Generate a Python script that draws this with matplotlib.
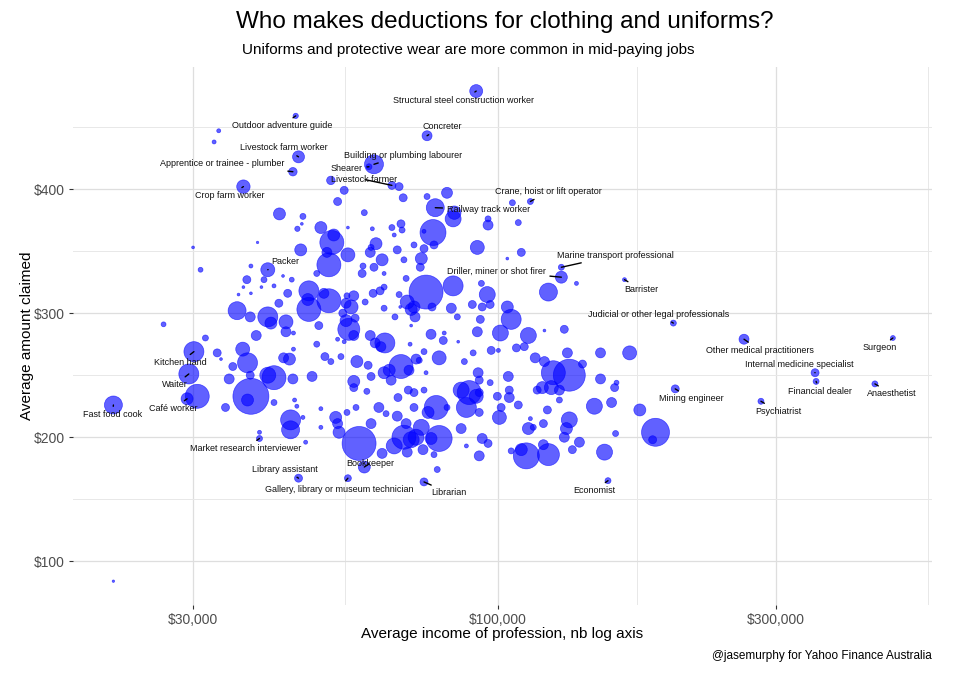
import numpy as np
import matplotlib.pyplot as plt
from matplotlib.ticker import FixedLocator, FuncFormatter, NullFormatter

plt.rcParams['font.family'] = ['Liberation Sans', 'DejaVu Sans']

# unlabelled occupations: average income ($k), average claim ($), claimants (relative)
income_k = [
    33.2, 32.6, 51.7, 54.5, 53.1, 67.7, 68.8, 75.6, 81.8,
    42.2, 46.3, 46.1, 45.3, 49.7, 55.3, 51.9, 52.3, 50.9, 55.3, 38.7, 30.0, 59.0, 60.9, 66.4, 68.2, 68.5, 65.8, 61.8,
    60.6, 71.8, 74.7, 77.7, 67.2, 84.2, 83.8, 77.4, 74.7, 96.2, 96.2, 92.2, 105.9, 108.4, 109.7, 103.8, 45.9, 37.7, 30.9,
    51.3, 60.4, 63.3, 61.3, 58.7, 69.0, 69.6, 73.9, 73.6, 58.5, 63.8, 63.8, 62.8, 61.1, 67.7, 75.3, 83.8, 93.7,
    122.1, 136.4, 37.1, 36.6, 35.9, 37.7, 39.3, 39.7, 42.8, 44.3, 48.9, 41.3, 43.6, 42.1, 47.4, 95.9, 56.6, 55.1,
    51.3, 47.4, 47.2, 50.3, 59.2, 56.0, 56.9, 71.0, 69.9, 71.0, 68.0, 66.6, 63.8, 71.8, 77.1, 72.1, 83.2,
    85.2, 90.4, 94.0, 97.0, 103.8, 105.4, 93.3, 92.2, 101.0, 112.8, 120.2, 130.0, 55.5, 54.9, 54.2, 56.6, 54.5,
    53.1, 35.7, 37.6, 40.3, 40.8, 43.3, 43.3, 44.6, 38.5, 31.5, 26.7, 49.3, 54.9, 76.8, 80.9, 80.6, 85.5,
    33.0, 33.5, 35.1, 36.5, 37.2, 37.6, 34.6, 40.3, 41.3, 43.9, 42.9, 44.6, 48.0, 44.5, 48.9, 50.5, 51.7, 53.8, 57.3, 59.9,
    56.6, 56.6, 59.6, 60.6, 61.6, 60.4, 64.0, 63.0, 70.7, 72.4, 68.2, 65.1, 70.4, 63.8, 65.6, 79.3, 74.7, 73.3, 75.3, 87.6,
    90.7, 97.4, 100.2, 92.5, 92.9, 97.0, 104.2, 107.6, 111.0, 115.9, 120.2, 124.5, 132.6, 131.6, 139.7, 150.0, 168.3, 150.0, 159.8, 158.6,
    70.2, 67.4, 71.8, 71.8, 62.5, 64.3, 60.6, 67.2, 69.6, 37.7, 37.2, 34.1, 41.3, 44.8, 45.2, 49.7, 52.7,
    55.1, 57.1, 30.5, 116.8, 119.2, 123.5, 127.5, 127.5, 104.6, 104.6, 108.4, 101.3, 100.6, 99.8, 92.9, 92.9, 89.3,
    86.5, 91.8, 88.3, 81.8, 78.4, 75.9, 74.7, 121.6, 119.7, 115.0, 113.7, 112.8, 132.6, 131.1, 146.4, 156.7, 175.2,
    44.1, 44.1, 39.0, 46.8, 46.3, 53.1, 53.4, 49.7, 57.8, 63.3, 66.4, 69.0, 71.0, 69.9, 73.9, 72.4, 76.8, 79.3, 74.4, 77.7,
    78.7, 86.5, 88.3, 92.9, 94.0, 96.2, 105.4, 109.7, 111.9, 122.1, 119.7, 130.0, 134.2, 138.0, 152.4, 159.2, 186.4, 184.3, 21.9,
]
claim = [
    447, 438, 407, 399, 390, 402, 393, 394, 397,
    380, 378, 372, 368, 369, 369, 357, 363, 349, 347, 357, 353, 381, 368, 363, 372, 367, 369, 356,
    353, 355, 352, 355, 351, 381, 376, 365, 366, 376, 371, 353, 389, 373, 349, 344, 351, 338, 335,
    339, 349, 343, 337, 338, 343, 328, 344, 337, 332, 332, 321, 318, 316, 315, 317, 322, 324,
    317, 324, 327, 321, 315, 316, 321, 327, 330, 327, 332, 322, 316, 308, 318, 315, 314, 314,
    310, 303, 311, 316, 309, 305, 296, 303, 309, 290, 305, 297, 304, 305, 305, 297, 304,
    297, 307, 305, 307, 305, 295, 295, 285, 284, 282, 286, 287, 287, 294, 300, 282, 277,
    279, 302, 297, 297, 292, 293, 285, 284, 282, 280, 291, 290, 308, 283, 284, 278, 277,
    268, 263, 257, 271, 260, 250, 247, 250, 248, 263, 264, 271, 249, 247, 275, 265, 261, 265, 261, 258,
    245, 240, 237, 249, 276, 282, 276, 273, 275, 263, 257, 254, 254, 252, 246, 264, 269, 262, 252, 261,
    268, 270, 270, 252, 246, 244, 249, 272, 273, 264, 261, 252, 250, 268, 259, 268, 268, 247, 244, 240,
    238, 232, 236, 224, 224, 219, 211, 217, 211, 233, 230, 224, 228, 230, 225, 223, 216,
    220, 224, 233, 238, 240, 240, 238, 230, 232, 238, 226, 224, 216, 233, 236, 220, 236,
    238, 233, 224, 224, 224, 220, 238, 222, 211, 208, 215, 207, 214, 207, 225, 228, 222,
    214, 206, 204, 196, 216, 211, 204, 208, 195, 187, 193, 200, 198, 188, 208, 200, 199, 199, 190, 186,
    174, 207, 193, 185, 199, 195, 189, 190, 185, 186, 194, 200, 190, 196, 188, 203, 204, 198, 84,
]
claimants = [
    4, 4, 18, 16, 16, 16, 16, 9, 30,
    36, 9, 2, 7, 36, 2, 144, 36, 25, 49, 1.5, 2, 9, 4, 4, 16, 9, 9, 36,
    9, 9, 16, 16, 16, 45, 64, 169, 4, 9, 25, 49, 9, 9, 16, 2, 36, 4, 6,
    144, 25, 36, 16, 9, 9, 9, 36, 16, 16, 4, 9, 16, 16, 9, 289, 100, 9,
    81, 4, 16, 2, 2, 2, 2, 9, 2, 6, 9, 4, 16, 16, 100, 64, 25, 9,
    144, 144, 36, 25, 9, 49, 16, 36, 49, 2, 2, 9, 9, 36, 16, 25, 25,
    9, 16, 16, 16, 36, 100, 16, 25, 64, 64, 2, 16, 121, 36, 16, 25, 4,
    4, 81, 25, 100, 36, 49, 25, 4, 25, 9, 6, 16, 25, 25, 4, 16, 2,
    16, 2, 16, 49, 100, 16, 25, 64, 144, 36, 25, 4, 25, 25, 9, 16, 9, 9, 36, 16,
    36, 16, 9, 16, 25, 25, 100, 25, 4, 25, 144, 36, 25, 36, 25, 49, 9, 9, 4, 9,
    9, 16, 4, 25, 16, 9, 25, 16, 16, 25, 25, 144, 256, 25, 16, 25, 49, 25, 6, 16,
    16, 16, 16, 16, 25, 9, 25, 25, 25, 324, 36, 16, 9, 4, 4, 4, 36,
    9, 9, 144, 16, 36, 49, 25, 9, 25, 16, 16, 16, 49, 16, 16, 16, 144,
    64, 49, 100, 9, 144, 36, 9, 16, 16, 9, 4, 36, 64, 36, 64, 25, 36,
    100, 81, 4, 4, 4, 25, 36, 4, 289, 25, 64, 144, 64, 25, 64, 64, 36, 169, 25, 9,
    9, 25, 4, 25, 25, 16, 9, 36, 169, 121, 25, 25, 16, 25, 64, 9, 196, 16, 1.5,
]

# labelled occupations
label_names = [
    "Structural steel construction worker", "Concreter", "Building or plumbing labourer",
    "Shearer", "Livestock farmer", "Outdoor adventure guide", "Livestock farm worker",
    "Apprentice or trainee - plumber", "Crop farm worker", "Crane, hoist or lift operator",
    "Railway track worker", "Marine transport professional", "Driller, miner or shot firer",
    "Barrister", "Judicial or other legal professionals", "Other medical practitioners",
    "Surgeon", "Internal medicine specialist", "Financial dealer", "Anaesthetist",
    "Mining engineer", "Psychiatrist", "Economist", "Librarian",
    "Gallery, library or museum technician", "Bookkeeper", "Library assistant",
    "Market research interviewer", "Packer", "Kitchen hand", "Waiter", "Café worker",
    "Fast food cook",
]
label_income_k = [91.8, 75.6, 61.3, 60.1, 65.8, 45.0, 45.5, 44.5, 36.6, 113.7, 78.1,
                  128.5, 128.5, 164.9, 200.0, 264.4, 476.1, 350.1, 351.5, 443.4, 201.5,
                  282.7, 154.5, 74.7, 55.3, 59.0, 45.5, 39.0, 40.3, 30.1, 29.5, 29.3, 21.9]
label_claim = [479, 443, 420, 418, 403, 459, 426, 414, 402, 390, 385, 337, 329, 327, 292,
               279, 280, 252, 245, 243, 239, 229, 165, 164, 167, 176, 167, 199, 335, 269,
               251, 231, 226]
label_claimants = [42, 25, 90, 9, 16, 7, 36, 18, 45, 9, 81, 9, 36, 4, 9, 25, 6, 16, 9, 9,
                   16, 9, 9, 16, 12, 36, 16, 9, 49, 100, 100, 36, 81]

# where each label sits relative to its bubble (pixels, right / down)
label_offsets = [(-13, 9), (15, -9), (29, -9), (-22, 2), (-28, -6), (-14, 10), (-15, -9),
                 (-71, -8), (-14, 9), (18, -10), (53, 2), (54, -12), (-65, -6), (17, 10),
                 (-15, -9), (16, 11), (-13, 10), (-16, -8), (4, 10), (17, 10), (16, 10),
                 (17, 10), (-14, 10), (25, 11), (-9, 11), (6, -4), (-14, -9), (-14, 10),
                 (17, -8), (-14, 11), (-14, 11), (-14, 10), (-1, 10)]

size_scale = 2.07

fig = plt.figure(figsize=(9.6, 6.77), dpi=100)
ax = fig.add_axes([73 / 960, 72 / 677, 859 / 960, 538 / 677])

x_all = np.array(income_k + label_income_k) * 1000
y_all = np.array(claim + label_claim)
s_all = np.array(claimants + label_claimants) * size_scale
ax.scatter(x_all, y_all, s=s_all, color='#0000ff', alpha=0.62,
           edgecolors='#0000ff', linewidths=0.5, zorder=3)

for name, xv, yv, (dx, dy) in zip(label_names, label_income_k, label_claim, label_offsets):
    ax.annotate(name, (xv * 1000, yv), xytext=(dx, -dy), textcoords='offset pixels',
                ha='center', va='center', fontsize=6.5, color='#111111', zorder=5,
                arrowprops=dict(arrowstyle='-', color='black', lw=1.0,
                                shrinkA=1, shrinkB=0))

ax.set_xscale('log')
ax.set_xlim(18670, 555600)
ax.set_ylim(64.8, 498.4)

ax.xaxis.set_major_locator(FixedLocator([30000, 100000, 300000]))
ax.xaxis.set_minor_locator(FixedLocator([54772, 173205, 547723]))
ax.xaxis.set_major_formatter(FuncFormatter(lambda v, p: '${:,.0f}'.format(v)))
ax.xaxis.set_minor_formatter(NullFormatter())
ax.yaxis.set_major_locator(FixedLocator([100, 200, 300, 400]))
ax.yaxis.set_minor_locator(FixedLocator([150, 250, 350, 450]))
ax.yaxis.set_major_formatter(FuncFormatter(lambda v, p: '${:.0f}'.format(v)))

ax.grid(which='major', color='#dedede', lw=0.9, zorder=0)
ax.grid(which='minor', color='#e8e8e8', lw=0.7, zorder=0)
ax.set_axisbelow(True)
for sp in ax.spines.values():
    sp.set_visible(False)
ax.tick_params(which='major', length=3, width=0.8, color='#333333',
               labelsize=10, labelcolor='#4d4d4d', pad=3)
ax.tick_params(which='minor', length=0)

ax.set_xlabel('Average income of profession, nb log axis', fontsize=11, labelpad=0)
ax.set_ylabel('Average amount claimed', fontsize=11, labelpad=0)

fig.text(505 / 960, 1 - 22 / 677, 'Who makes deductions for clothing and uniforms?',
         ha='center', va='center', fontsize=17.5)
fig.text(468 / 960, 1 - 50 / 677, 'Uniforms and protective wear are more common in mid-paying jobs',
         ha='center', va='center', fontsize=11)
fig.text(932 / 960, 1 - 656 / 677, '@jasemurphy for Yahoo Finance Australia',
         ha='right', va='center', fontsize=8.5)

fig.savefig('out.png', dpi=100)
